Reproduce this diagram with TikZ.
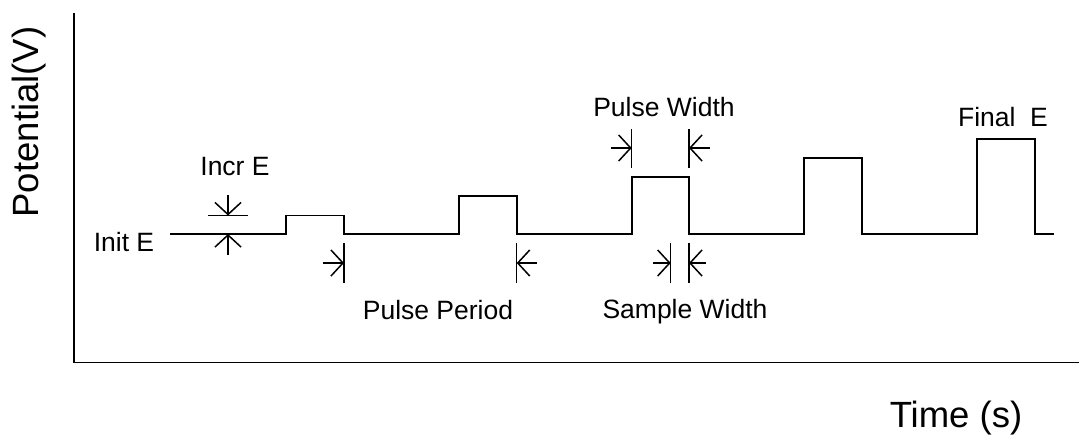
\documentclass[tikz,border=0pt]{standalone}
\usepackage{fontspec}
\setmainfont{Liberation Sans}
\usetikzlibrary{arrows.meta}
\begin{document}
\begin{tikzpicture}[x=1pt,y=-1pt,
  wave/.style={line width=1.7pt, line join=miter},
  axisline/.style={line width=1.8pt},
  dimline/.style={line width=1.5pt},
  dimarrow/.style={line width=1.5pt,-{Straight Barb[length=12pt,width=26pt]}},
  lbl/.style={font=\fontsize{26.5}{30}\selectfont, inner sep=0pt, anchor=base},
  biglbl/.style={font=\fontsize{36.5}{40}\selectfont, inner sep=0pt, anchor=base}]
\useasboundingbox (0,0) rectangle (1079,434);
% axes
\coordinate (ytop) at (74,13);
\coordinate (orig) at (74,362.5);
\coordinate (xend) at (1079,362.5);
\draw[axisline] (ytop) -- (orig) -- (xend);
% waveform
\draw[wave] (170,234) -- (286,234) -- (286,215.5) -- (344,215.5) -- (344,234)
  -- (459,234) -- (459,196) -- (516.7,196) -- (516.7,234)
  -- (631.7,234) -- (631.7,177) -- (689,177) -- (689,234)
  -- (804.3,234) -- (804.3,158) -- (862,158) -- (862,234)
  -- (977,234) -- (977,139) -- (1035,139) -- (1035,234) -- (1054,234);
% Incr E
\coordinate (ie1) at (208,215.5); \coordinate (ie2) at (248,215.5);
\draw[dimline] (ie1) -- (ie2);
\coordinate (iea) at (228,195); \coordinate (ieb) at (228,215.5);
\coordinate (iec) at (228,255); \coordinate (ied) at (228,234);
\draw[dimarrow] (iea) -- (ieb);
\draw[dimarrow] (iec) -- (ied);
% Pulse Period
\coordinate (pp1a) at (344,243); \coordinate (pp1b) at (344,283);
\coordinate (pp2a) at (516.7,243); \coordinate (pp2b) at (516.7,283);
\draw[dimline] (pp1a) -- (pp1b);
\draw[dimline] (pp2a) -- (pp2b);
\coordinate (ppl) at (323,263); \coordinate (ppr) at (537,263);
\draw[dimarrow] (ppl) -- (pp1a |- ppl);
\draw[dimarrow] (ppr) -- (pp2a |- ppr);
% Pulse Width
\coordinate (pw1a) at (631.7,129); \coordinate (pw1b) at (631.7,168);
\coordinate (pw2a) at (689,129); \coordinate (pw2b) at (689,168);
\draw[dimline] (pw1a) -- (pw1b);
\draw[dimline] (pw2a) -- (pw2b);
\coordinate (pwl) at (611,148); \coordinate (pwr) at (710,148);
\draw[dimarrow] (pwl) -- (pw1a |- pwl);
\draw[dimarrow] (pwr) -- (pw2a |- pwr);
% Sample Width
\coordinate (sw1a) at (670.7,243); \coordinate (sw1b) at (670.7,283);
\coordinate (sw2a) at (689,243); \coordinate (sw2b) at (689,283);
\draw[dimline] (sw1a) -- (sw1b);
\draw[dimline] (sw2a) -- (sw2b);
\coordinate (swl) at (653,263); \coordinate (swr) at (706,263);
\draw[dimarrow] (swl) -- (sw1a |- swl);
\draw[dimarrow] (swr) -- (sw2a |- swr);
% labels
\node[lbl] (incr) at (235,175) {Incr E};
\node[lbl] (init) at (124,251) {Init E};
\node[lbl] (period) at (438,319) {Pulse Period};
\node[lbl] (pwidth) at (664,116.7) {Pulse Width};
\node[lbl] (swidth) at (685,318.5) {Sample Width};
\node[lbl] (final) at (1003,126.5) {Final\ \ E};
\node[biglbl] (time) at (956,427) {Time (s)};
\node[biglbl, rotate=90] (pot) at (38,122) {Potential(V)};
\end{tikzpicture}
\end{document}
